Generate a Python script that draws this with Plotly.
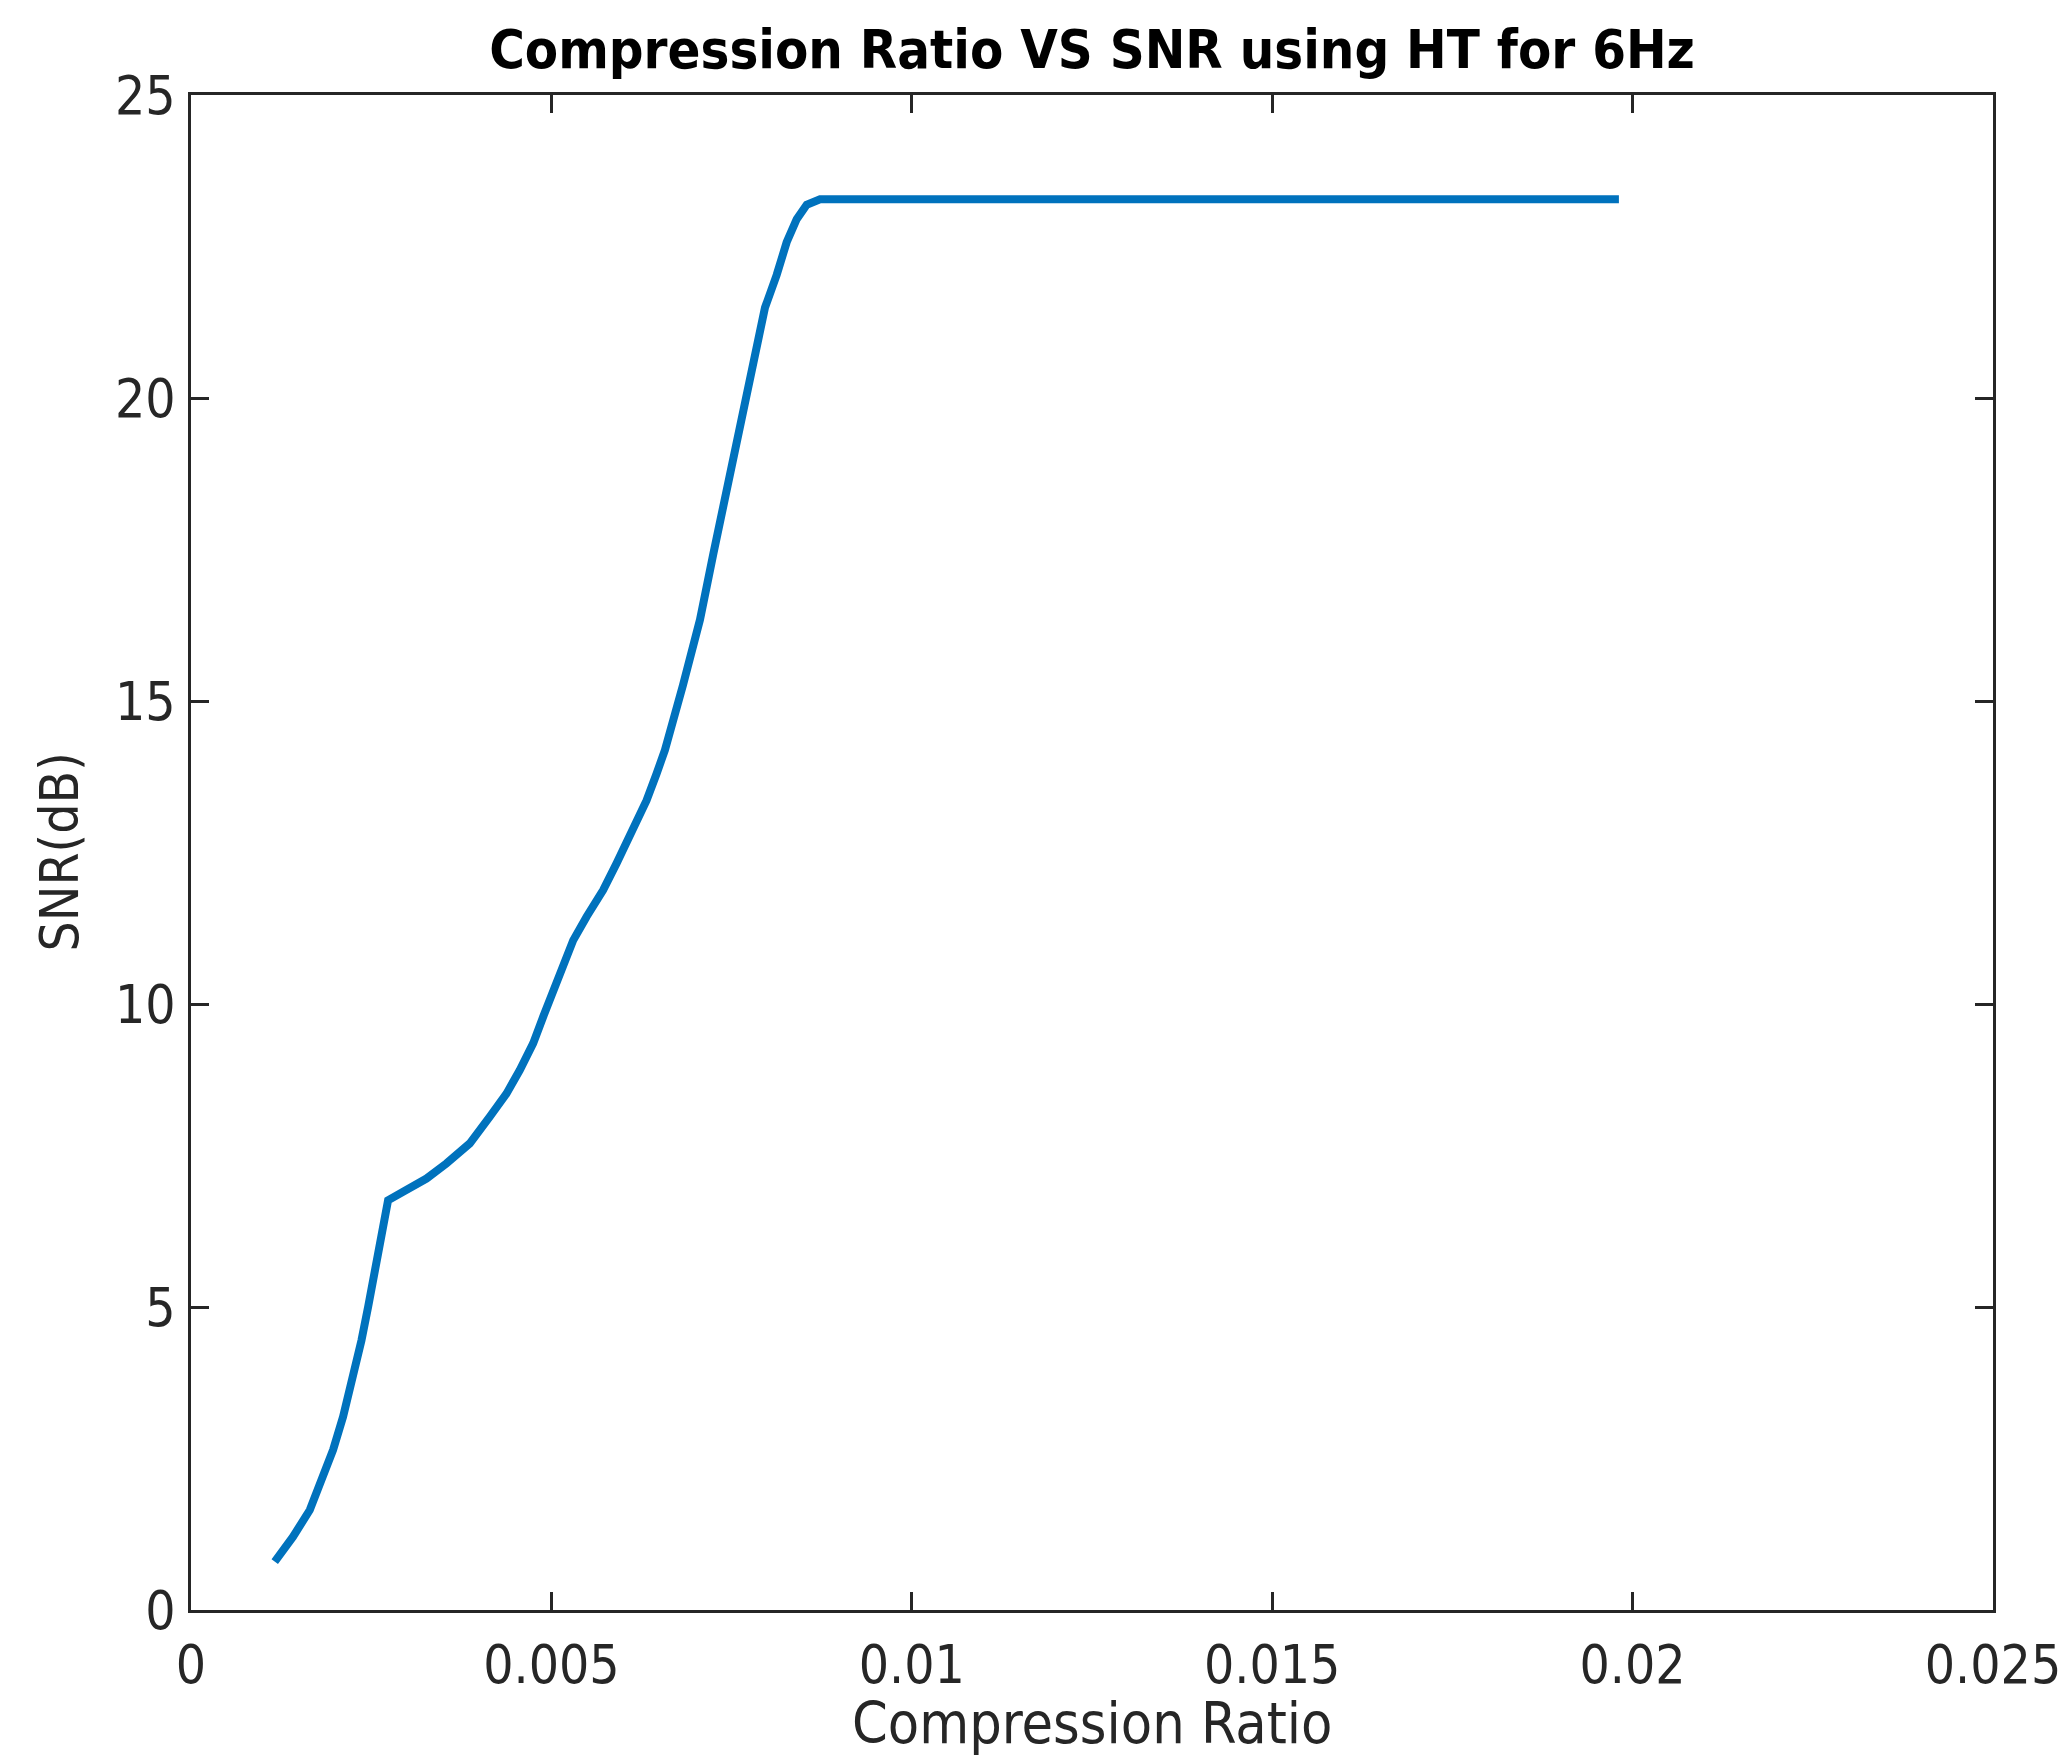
import plotly.graph_objects as go

# Compression ratio (x) and SNR in dB (y)
compression_ratio = [
    0.001162, 0.001416, 0.001648, 0.001833, 0.001971, 0.002110, 0.002249,
    0.002365, 0.002457, 0.002550, 0.002619, 0.002689, 0.002734,
    0.002943, 0.003267, 0.003545, 0.003868, 0.004146, 0.004377, 0.004562,
    0.004747, 0.004886, 0.005024, 0.005141, 0.005302, 0.005488, 0.005718,
    0.005904, 0.006135, 0.006320, 0.006459, 0.006575,
    0.006825, 0.007061, 0.007245, 0.007431, 0.007616, 0.007801, 0.007963,
    0.008125, 0.008264, 0.008403, 0.008542, 0.008727, 0.019810,
]
snr_db = [
    0.80, 1.21, 1.65, 2.20, 2.64, 3.19, 3.85,
    4.45, 5.00, 5.55, 6.10, 6.54, 6.76,
    6.90, 7.12, 7.37, 7.70, 8.14, 8.52, 8.91,
    9.35, 9.79, 10.23, 10.61, 11.05, 11.44, 11.88,
    12.32, 12.87, 13.36, 13.80, 14.19,
    15.26, 16.34, 17.42, 18.51, 19.59, 20.67, 21.49,
    22.03, 22.57, 22.95, 23.19, 23.28, 23.28,
]

x_tick_vals = [0, 0.005, 0.01, 0.015, 0.02, 0.025]
x_tick_text = ["0", "0.005", "0.01", "0.015", "0.02", "0.025"]
y_tick_vals = [0, 5, 10, 15, 20, 25]
y_tick_text = ["0", "5", "10", "15", "20", "25"]

title_text = "Compression Ratio VS SNR using HT for 6Hz"
x_label = "Compression Ratio"
y_label = "SNR(dB)"

FONT = "DejaVu Sans Condensed, Liberation Sans Narrow, DejaVu Sans, sans-serif"
AX = "#262626"

W, H = 2069, 1757
ML, MR, MT, MB = 191, 76, 95, 147
PW, PH = W - ML - MR, H - MT - MB

fig = go.Figure()
fig.add_trace(go.Scatter(
    x=compression_ratio, y=snr_db, mode="lines",
    line=dict(color="#0072BD", width=8),
    showlegend=False,
))

axis_common = dict(
    showline=True, linecolor=AX, linewidth=2.5, mirror="ticks",
    ticks="inside", ticklen=18, tickwidth=2.5, tickcolor=AX,
    showgrid=False, zeroline=False, ticklabeloverflow="allow",
    automargin=False,
    tickfont=dict(family=FONT, size=53, color=AX),
)

fig.update_layout(
    width=W, height=H, autosize=False,
    margin=dict(l=ML, r=MR, t=MT, b=MB),
    paper_bgcolor="white", plot_bgcolor="white",
    title=dict(
        text="<b>" + title_text + "</b>",
        font=dict(family=FONT, size=54, color="black"),
        x=(ML + W - MR) / 2 / W, xanchor="center",
        y=1 - 49 / H, yanchor="middle", yref="container",
    ),
    xaxis=dict(
        range=[0, 0.025], tickvals=x_tick_vals, ticktext=x_tick_text,
        ticklabelstandoff=7,
        **axis_common,
    ),
    yaxis=dict(
        range=[0, 25], tickvals=y_tick_vals, ticktext=y_tick_text,
        ticklabelstandoff=2,
        **axis_common,
    ),
    annotations=[
        dict(
            text=x_label, xref="paper", yref="paper",
            x=0.5, y=-(1723 - (H - MB)) / PH,
            xanchor="center", yanchor="middle", showarrow=False,
            font=dict(family=FONT, size=57, color=AX),
        ),
        dict(
            text=y_label, xref="paper", yref="paper",
            x=-(ML - 59) / PW, y=0.5, textangle=-90,
            xanchor="center", yanchor="middle", showarrow=False,
            font=dict(family=FONT, size=53, color=AX),
        ),
    ],
)

fig.write_html(
    "out.html",
    config={"displayModeBar": False},
    post_script="document.body.style.margin='0px';document.body.style.overflow='hidden';",
)
